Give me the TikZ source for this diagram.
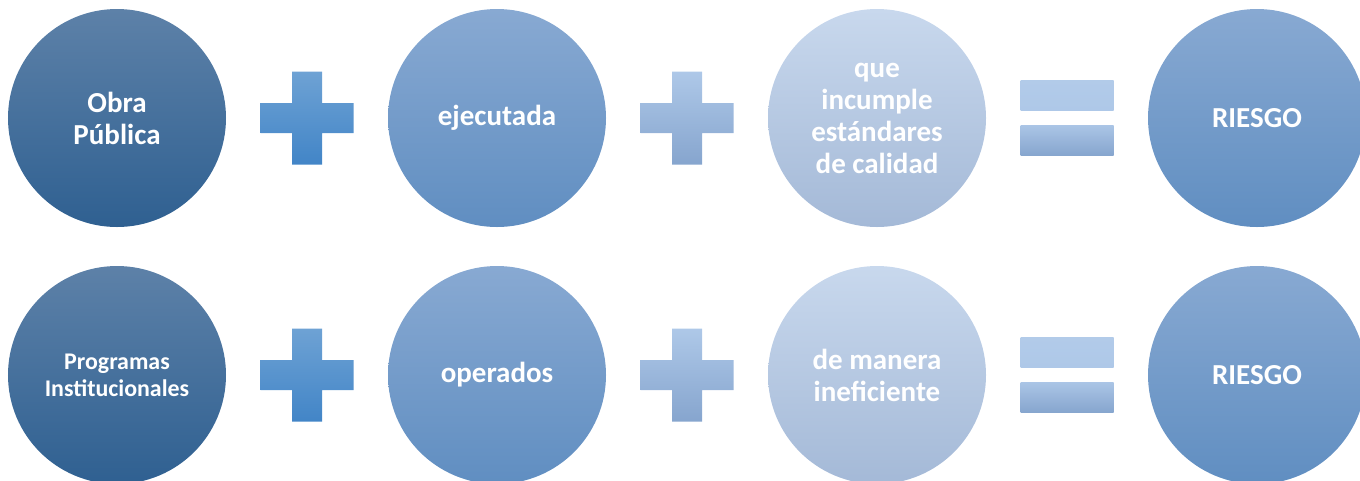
\documentclass[tikz,border=0pt]{standalone}
\usepackage{fontspec}
\setmainfont{Carlito}
\usepackage{xcolor}
\usepackage{tikz}
\usetikzlibrary{positioning}
\definecolor{darkTop}{RGB}{93,129,168}
\definecolor{darkBot}{RGB}{47,96,145}
\definecolor{midTop}{RGB}{136,169,210}
\definecolor{midBot}{RGB}{96,142,193}
\definecolor{lightTop}{RGB}{200,216,237}
\definecolor{lightBot}{RGB}{164,185,215}
\definecolor{plusTop}{RGB}{110,162,212}
\definecolor{plusBot}{RGB}{66,133,199}
\definecolor{paleTop}{RGB}{174,200,232}
\definecolor{paleBot}{RGB}{134,165,206}
\tikzstyle{ball} = [circle, minimum size=4.36cm, inner sep=0pt, align=center, text=white,
	font=\bfseries\fontsize{16.5}{18.2}\selectfont]
\tikzstyle{darkBall} = [ball, top color=darkTop, bottom color=darkBot]
\tikzstyle{midBall} = [ball, top color=midTop, bottom color=midBot]
\tikzstyle{lightBall} = [ball, top color=lightTop, bottom color=lightBot]
\tikzstyle{sign} = [inner sep=0, minimum size=0]
\tikzstyle{plusStrong} = [top color=plusTop, bottom color=plusBot]
\tikzstyle{plusPale} = [top color=paleTop, bottom color=paleBot]
\tikzstyle{barUp} = [top color=paleTop!95!white, bottom color=paleTop]
\tikzstyle{barDown} = [top color=paleTop!90!paleBot, bottom color=paleBot]
% plus sign around a node
\newcommand{\plusSign}[2]{\shade[#2, shift={(#1)}] (-0.3,0.93) -- (0.3,0.93) -- (0.3,0.3) -- (0.93,0.3)
	-- (0.93,-0.3) -- (0.3,-0.3) -- (0.3,-0.93) -- (-0.3,-0.93) -- (-0.3,-0.3) -- (-0.93,-0.3)
	-- (-0.93,0.3) -- (-0.3,0.3) -- cycle;}
% equal sign around a node
\newcommand{\equalSign}[1]{\shade[barUp, shift={(#1)}] (-0.93,0.15) rectangle (0.93,0.75);
	\shade[barDown, shift={(#1)}] (-0.93,-0.15) rectangle (0.93,-0.75);}
\begin{document}
\begin{tikzpicture}[node distance=3.8cm]
		\clip (0,0) rectangle (27.2,-9.6);
		% row 1
		\node[darkBall] (obra) at (2.34,-2.36) {Obra\\Pública};		% Anfang
		\node[sign, right of=obra] (plusA) {};
		\node[midBall, right of=plusA] (ejec) {ejecutada};
		\node[sign, right of=ejec] (plusB) {};
		\node[lightBall, right of=plusB] (calidad) {que\\incumple\\estándares\\de calidad};
		\node[sign, right of=calidad] (eqA) {};
		\node[midBall, right of=eqA] (riesgoA) {RIESGO};
		% row 2
		\node[darkBall, below of=obra, node distance=5.14cm,
			font=\bfseries\fontsize{13.6}{15.3}\selectfont] (prog) {Programas\\Institucionales};
		\node[sign, right of=prog] (plusC) {};
		\node[midBall, right of=plusC] (oper) {operados};
		\node[sign, right of=oper] (plusD) {};
		\node[lightBall, right of=plusD] (manera) {de manera\\ineficiente};
		\node[sign, right of=manera] (eqB) {};
		\node[midBall, right of=eqB] (riesgoB) {RIESGO};
		
		% signs
		\plusSign{plusA}{plusStrong}
		\plusSign{plusB}{plusPale}
		\equalSign{eqA}
		\plusSign{plusC}{plusStrong}
		\plusSign{plusD}{plusPale}
		\equalSign{eqB}
\end{tikzpicture}
\end{document}
